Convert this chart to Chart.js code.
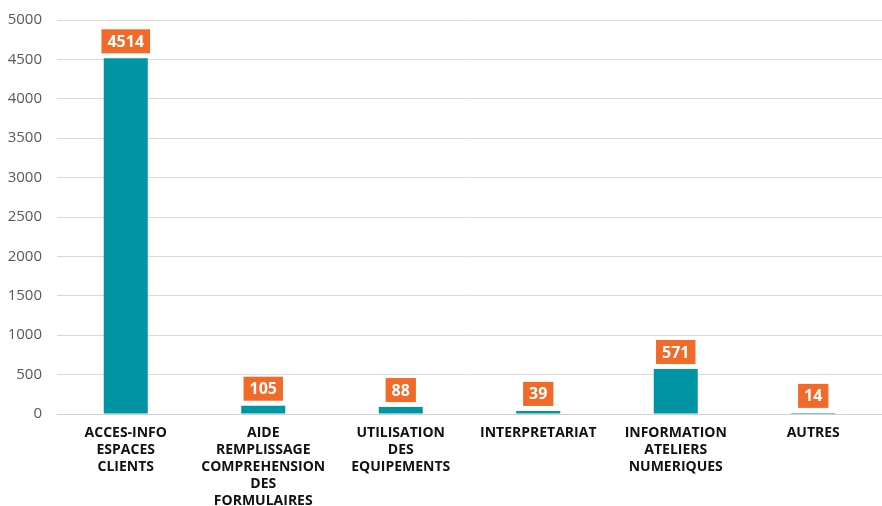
<!DOCTYPE html>
<html><head><meta charset="utf-8">
<script src="https://cdn.jsdelivr.net/npm/chart.js@4/dist/chart.umd.min.js"></script>
<style>html,body{margin:0;padding:0;background:#fff}#w{width:882px;height:506px}</style>
</head><body><div id="w"><canvas id="c"></canvas></div>
<script>
const categories = [
  ["ACCES-INFO","ESPACES","CLIENTS"],
  ["AIDE","REMPLISSAGE","COMPREHENSION","DES","FORMULAIRES"],
  ["UTILISATION","DES","EQUIPEMENTS"],
  ["INTERPRETARIAT"],
  ["INFORMATION","ATELIERS","NUMERIQUES"],
  ["AUTRES"]
];
const values = [4514, 105, 88, 39, 571, 14];
const yTicks = [0, 500, 1000, 1500, 2000, 2500, 3000, 3500, 4000, 4500, 5000];

const labelPlugin = {
  id: 'boxLabels',
  afterDatasetsDraw(chart) {
    const ctx = chart.ctx;
    const meta = chart.getDatasetMeta(0);
    ctx.save();
    ctx.font = 'bold 16px "Open Sans", sans-serif';
    ctx.textAlign = 'center';
    ctx.textBaseline = 'middle';
    meta.data.forEach((bar, i) => {
      const t = String(values[i]);
      const w = ctx.measureText(t).width + 12;
      const h = 24;
      const x = bar.x - w / 2;
      const y = bar.y - 5 - h;
      ctx.fillStyle = '#F26A2A';
      ctx.fillRect(x, y, w, h);
      ctx.fillStyle = '#ffffff';
      ctx.fillText(t, bar.x, y + h / 2 + 1);
    });
    ctx.restore();
  }
};

new Chart(document.getElementById('c'), {
  type: 'bar',
  data: { labels: categories, datasets: [{ data: values, backgroundColor: '#0095A5', borderWidth: 0, categoryPercentage: 1, barPercentage: 0.32 }] },
  plugins: [labelPlugin],
  options: {
    responsive: true, maintainAspectRatio: false, animation: false,
    layout: { padding: { top: 20, right: 0, left: 0, bottom: 0 } },
    plugins: { legend: { display: false }, tooltip: { enabled: false } },
    scales: {
      y: {
        min: 0, max: 5000,
        afterBuildTicks(ax) { ax.ticks = yTicks.map(v => ({ value: v })); },
        afterFit(s) { s.width = 57; s.paddingTop = 0; },
        grid: { color: '#d9d9d9', drawTicks: false, lineWidth: 1 },
        border: { display: false },
        ticks: { color: '#595959', font: { size: 15, family: '"Open Sans", sans-serif', lineHeight: 1 }, padding: 15, callback: v => String(v) }
      },
      x: {
        afterFit(s) { s.height = 92; },
        grid: { display: false },
        border: { color: '#d0d0d0', width: 1 },
        ticks: { color: '#111', font: { size: 14, weight: 'bold', family: '"Open Sans", sans-serif', lineHeight: '17px' }, maxRotation: 0, autoSkip: false, padding: 3 }
      }
    }
  }
});
</script></body></html>
